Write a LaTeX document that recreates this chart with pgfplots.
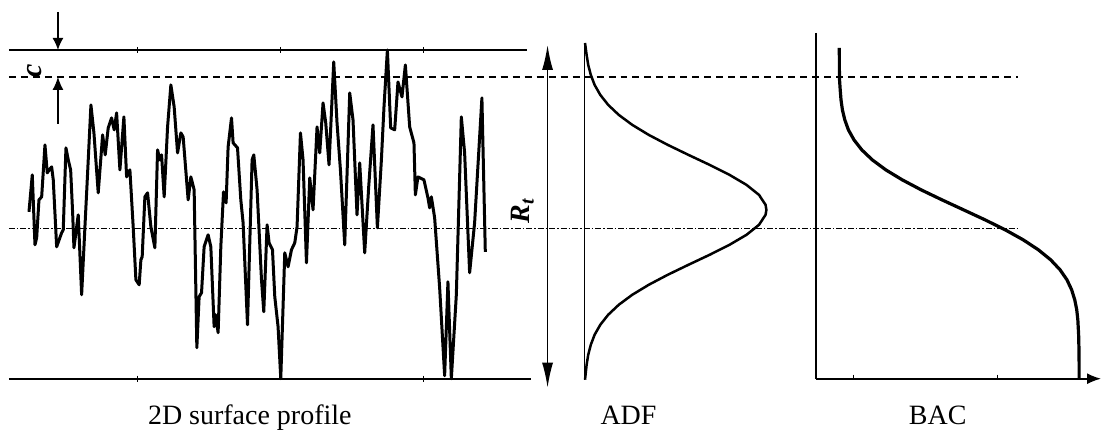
\documentclass[border=0pt]{standalone}
\usepackage{fontspec}
\setmainfont{Liberation Serif}
\usepackage{pgfplots}
\pgfplotsset{compat=1.18}
\usetikzlibrary{arrows.meta}
\pgfplotstableread{
x y
29 212
32.3 175
35 245
36.7 238
39 200
41.7 197
45 145
47.3 173
49.3 170
51.7 167
53.3 180
56.7 247
61.7 233
63.3 230
66 148
68.3 160
70.7 170
72.7 213
74 248
78.3 215
81.7 295
85 227
86.7 193
91 105
94 133
98.3 193
102.7 135
105.3 155
108.3 128
111.7 118
114.3 130
116.7 113
120 170
124 117
126.7 177
130 170
133.3 227
136 280
139.3 285
141 260
142.3 257
145 197
147.7 193
151 227
155 248
157.7 150
160 160
161.7 155
164.3 197
167.7 127
171 85
174.3 107
177.7 153
181 133
183.3 137
188.3 200
191 177
194.3 190
197 348
199.3 297
201.7 293
204.3 247
208.3 235
211 247
214.3 327
215.7 315
218.3 333
221 247
223.7 192
226.3 203
228.3 147
231.7 118
233.3 143
237.7 148
241 200
243.3 223
247.7 325
252.3 160
254 155
257.3 190
261.7 280
264 312
267.3 225
269.3 243
272.7 250
275 297
278.3 327
281 379
285 253
288.3 267
291.7 250
295 243
297.3 227
300.7 133
303.3 160
306.7 263
310 178
313.3 210
317.3 127
320 153
323.3 103
326 123
329.3 165
334 62
337.3 123
340.7 170
345 245
350 93
353.3 120
357.3 215
360 163
365 253
369 187
373.3 125
377.7 228
381.7 160
384.3 107
387.7 50
391 128
395 130
398.3 82
402.3 97
405.7 65
410 127
414.3 143
415.7 195
418.3 177
424.3 180
428.3 198
430 208
431.7 197
435 218
440 288
445 376
448.3 282
451.7 379
456.7 295
461.7 117
465 153
470 273
475 223
482.3 98
485.7 252
}\profile
\pgfplotstableread{
x y
585.5 43
587.1 55
588.7 65
591.3 75
595.1 85
600.8 95
608.7 105
619.3 115
632.8 125
649.3 135
668.3 145
689.0 155
710.2 165
730.1 175
747.1 185
759.6 195
766.2 205
767.0 210
766.2 215
759.6 225
747.1 235
730.1 245
710.2 255
689.0 265
668.3 275
649.3 285
632.8 295
619.3 305
608.7 315
600.8 325
595.1 335
591.3 345
588.7 355
587.1 365
585.5 380
}\adf
\pgfplotstableread{
x y
840.0 48
840.1 78
840.9 90
841.7 100
843.1 110
845.5 120
849.1 130
854.7 140
862.5 150
873.0 160
886.5 170
903.0 180
921.9 190
942.7 200
964.3 210
985.8 220
1006.0 230
1024.0 240
1039.2 250
1051.5 260
1060.9 270
1067.8 280
1072.5 290
1075.6 300
1077.6 310
1078.7 320
1079.5 335
1079.85 350
1080 365
1080 380
}\bac
\begin{document}
\begin{tikzpicture}
\begin{axis}[x=1pt,y=1pt,xmin=0,xmax=1102,ymin=0,ymax=430,y dir=reverse,
  hide axis,clip=false,scale only axis]
\path (axis cs:0,0) rectangle (axis cs:1102,430);
% reference lines
\addplot[line width=2pt] coordinates {(9,50) (527,50)};
\addplot[line width=2pt] coordinates {(9,379) (531,379)};
\addplot[line width=2pt, dash pattern=on 7pt off 5pt] coordinates {(9,77) (1019,77)};
\addplot[line width=1.2pt, dash pattern=on 6pt off 2pt on 1.5pt off 2pt] coordinates {(9,229) (1019,229)};
% small ticks
\addplot[line width=0.7pt] coordinates {(137,47) (137,53)};
\addplot[line width=0.7pt] coordinates {(281,47) (281,53)};
\addplot[line width=0.7pt] coordinates {(424,47) (424,53)};
\addplot[line width=0.7pt] coordinates {(137,376) (137,382)};
\addplot[line width=0.7pt] coordinates {(424,376) (424,382)};
% profile
\addplot[line width=3pt, line join=round] table {\profile};
% c arrows
\addplot[line width=1.4pt, -{Latex[length=12pt,width=11pt]}] coordinates {(58,12) (58,50)};
\addplot[line width=1.4pt, -{Latex[length=13pt,width=11pt]}] coordinates {(58,124) (58,77)};
\node[rotate=90, font=\fontsize{30}{34}\selectfont\bfseries\itshape] at (axis cs:35,71) {c};
% Rt arrow
\addplot[line width=1.5pt, {Latex[length=25pt,width=11pt]}-{Latex[length=25pt,width=11pt]}] coordinates {(548,45) (548,388)};
\node[rotate=90, font=\fontsize{28}{32}\selectfont\bfseries\itshape] at (axis cs:523,211) {R\textsubscript{t}};
% ADF
\addplot[line width=1.4pt] coordinates {(585,43) (585,380)};
\addplot[line width=2.5pt, line join=round] table {\adf};
% BAC
\addplot[line width=1.8pt] coordinates {(817,33) (817,379)};
\addplot[line width=1.8pt, -{Latex[length=14pt,width=11pt]}] coordinates {(817,379) (1102,379)};
\addplot[line width=0.7pt] coordinates {(854,375) (854,379)};
\addplot[line width=0.7pt] coordinates {(998,375) (998,379)};
\addplot[line width=3.2pt, line join=round] table {\bac};
% labels
\node[anchor=base, font=\fontsize{28}{33}\selectfont] at (axis cs:250,425) {2D surface profile};
\node[anchor=base, font=\fontsize{28}{33}\selectfont] at (axis cs:629,425) {ADF};
\node[anchor=base, font=\fontsize{28}{33}\selectfont] at (axis cs:938.5,425) {BAC};
\end{axis}
\end{tikzpicture}
\end{document}
